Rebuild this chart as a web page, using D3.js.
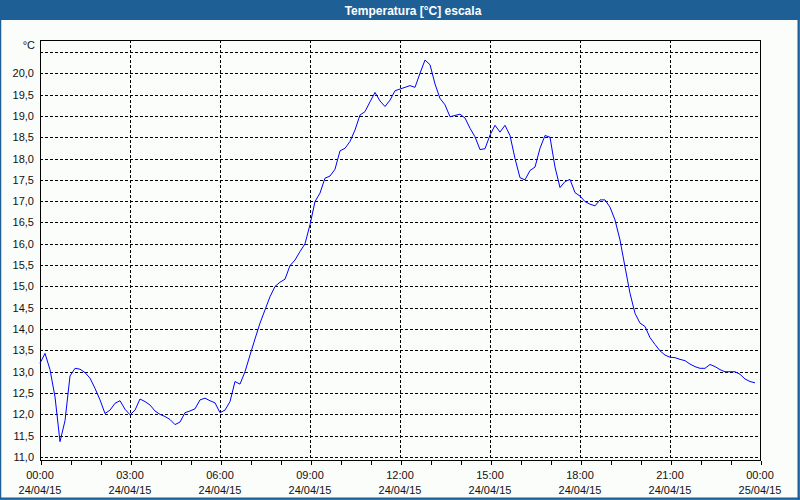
<!DOCTYPE html>
<html>
<head>
<meta charset="utf-8">
<script src="https://cdn.jsdelivr.net/npm/d3@7/dist/d3.min.js"></script>
<style>
  html, body { margin: 0; padding: 0; background: #fbfdfb; }
  svg { display: block; }
  text { font-family: "Liberation Sans", Arial, sans-serif; }
</style>
</head>
<body>
<svg id="chart" width="800" height="500"></svg>
<script>
// ---- Data ----
const title = "Temperatura [°C] escala";
const unitLabel = "°C";
const startTime = "2015-04-24T00:00:00";
const stepMinutes = 10;
const temperature = [
  13.20, 13.43, 13.05, 12.41, 11.36, 11.85, 12.90, 13.08, 13.06, 12.98,
  12.85, 12.61, 12.34, 12.02, 12.10, 12.26, 12.32, 12.12, 11.99, 12.10,
  12.36, 12.30, 12.22, 12.08, 12.00, 11.95, 11.88, 11.76, 11.82, 12.04,
  12.08, 12.13, 12.34, 12.38, 12.32, 12.27, 12.04, 12.10, 12.30, 12.77,
  12.71, 13.00, 13.39, 13.77, 14.14, 14.45, 14.76, 15.00, 15.10, 15.17,
  15.49, 15.62, 15.82, 16.00, 16.45, 16.99, 17.19, 17.54, 17.59, 17.75,
  18.18, 18.24, 18.40, 18.67, 19.02, 19.10, 19.33, 19.55, 19.35, 19.22,
  19.37, 19.59, 19.63, 19.67, 19.71, 19.67, 20.00, 20.31, 20.20, 19.75,
  19.41, 19.26, 18.98, 19.01, 19.04, 18.95, 18.71, 18.51, 18.21, 18.23,
  18.55, 18.78, 18.62, 18.78, 18.54, 18.00, 17.55, 17.50, 17.72, 17.80,
  18.24, 18.54, 18.50, 17.80, 17.32, 17.46, 17.51, 17.20, 17.12, 16.99,
  16.93, 16.89, 17.03, 17.03, 16.86, 16.56, 16.09, 15.46, 14.84, 14.37,
  14.14, 14.06, 13.80, 13.64, 13.49, 13.39, 13.34, 13.33, 13.29, 13.26,
  13.18, 13.12, 13.08, 13.08, 13.17, 13.12, 13.05, 13.00, 13.00, 13.00,
  12.94, 12.83, 12.77, 12.74
];
const yTickValues = [11.0, 11.5, 12.0, 12.5, 13.0, 13.5, 14.0, 14.5, 15.0, 15.5,
  16.0, 16.5, 17.0, 17.5, 18.0, 18.5, 19.0, 19.5, 20.0, 20.5];
const yLabelValues = [11.0, 11.5, 12.0, 12.5, 13.0, 13.5, 14.0, 14.5, 15.0, 15.5,
  16.0, 16.5, 17.0, 17.5, 18.0, 18.5, 19.0, 19.5, 20.0];
const xDomain = ["2015-04-24T00:00:00", "2015-04-25T00:00:00"];
const yDomain = [10.93, 20.78];

// ---- Build ----
const parse = d3.isoParse;
const t0 = parse(startTime);
const series = temperature.map((v, i) => ({ t: d3.timeMinute.offset(t0, i * stepMinutes), v }));

const W = 800, H = 500;
const plot = { left: 40, right: 760, top: 40, bottom: 460 };
const svg = d3.select("#chart");

// background
svg.append("rect").attr("x", 0).attr("y", 0).attr("width", W).attr("height", H).attr("fill", "#fbfdfb");

// title bar
svg.append("rect").attr("x", 0).attr("y", 0).attr("width", W).attr("height", 20).attr("fill", "#1e6096");
svg.append("text").attr("x", 413).attr("y", 14.5).attr("text-anchor", "middle")
  .attr("fill", "#ffffff").attr("font-weight", "bold").attr("font-size", "12px").text(title);

// window border
svg.append("rect").attr("x", 0.5).attr("y", 0.5).attr("width", W - 1.5).attr("height", H - 1.5)
  .attr("fill", "none").attr("stroke", "#1e6096").attr("stroke-width", 1.5);
svg.append("line").attr("x1", 798.5).attr("x2", 798.5).attr("y1", 20).attr("y2", 500).attr("stroke", "#1e6096").attr("stroke-width", 2);
svg.append("line").attr("x1", 0).attr("x2", 800).attr("y1", 498.5).attr("y2", 498.5).attr("stroke", "#1e6096").attr("stroke-width", 2);

const x = d3.scaleTime().domain(xDomain.map(parse)).range([plot.left, plot.right]);
const y = d3.scaleLinear().domain(yDomain).range([plot.bottom, plot.top]);

// horizontal gridlines
svg.append("g").selectAll("line").data(yTickValues).join("line")
  .attr("x1", plot.left).attr("x2", plot.right)
  .attr("y1", d => Math.round(y(d)) + 0.5).attr("y2", d => Math.round(y(d)) + 0.5)
  .attr("stroke", "#000").attr("stroke-width", 1).attr("stroke-dasharray", "3,2")
  .attr("shape-rendering", "crispEdges");

// vertical gridlines every 3 hours
const majorTicks = d3.timeHour.every(3).range(x.domain()[0], d3.timeMinute.offset(x.domain()[1], 1));
svg.append("g").selectAll("line").data(majorTicks.slice(1, -1)).join("line")
  .attr("x1", d => Math.round(x(d)) + 0.5).attr("x2", d => Math.round(x(d)) + 0.5)
  .attr("y1", plot.top).attr("y2", plot.bottom)
  .attr("stroke", "#000").attr("stroke-width", 1).attr("stroke-dasharray", "3,2")
  .attr("shape-rendering", "crispEdges");

// frame
svg.append("rect").attr("x", plot.left + 0.5).attr("y", plot.top + 0.5)
  .attr("width", plot.right - plot.left).attr("height", plot.bottom - plot.top)
  .attr("fill", "none").attr("stroke", "#000").attr("stroke-width", 1).attr("shape-rendering", "crispEdges");

// x axis hourly ticks
const xAxis = d3.axisBottom(x).ticks(d3.timeHour.every(1)).tickSize(4).tickSizeOuter(0).tickFormat("");
const gx = svg.append("g").attr("transform", `translate(0.5,${plot.bottom + 0.5})`).call(xAxis);
gx.select(".domain").remove();
gx.selectAll("line").attr("stroke", "#000").attr("shape-rendering", "crispEdges");

// x labels
const fmtTime = d3.timeFormat("%H:%M");
const fmtDate = d3.timeFormat("%d/%m/%y");
const xl = svg.append("g").selectAll("g").data(majorTicks).join("g");
xl.append("text").attr("x", d => x(d)).attr("y", 479).attr("text-anchor", "middle")
  .attr("font-size", "11px").attr("fill", "#111").text(d => fmtTime(d));
xl.append("text").attr("x", d => x(d)).attr("y", 494).attr("text-anchor", "middle")
  .attr("font-size", "11px").attr("fill", "#111").text(d => fmtDate(d));

// y labels
const fmtY = v => d3.format(".1f")(v).replace(".", ",");
svg.append("g").selectAll("text").data(yLabelValues).join("text")
  .attr("x", 34).attr("y", d => y(d) + 4).attr("text-anchor", "end")
  .attr("font-size", "11px").attr("fill", "#111").text(d => fmtY(d));
svg.append("text").attr("x", 35).attr("y", 49).attr("text-anchor", "end")
  .attr("font-size", "11px").attr("fill", "#111").text(unitLabel);

// line
const line = d3.line().x(d => x(d.t)).y(d => y(d.v));
svg.append("path").datum(series).attr("d", line)
  .attr("fill", "none").attr("stroke", "#0000ff").attr("stroke-width", 1);
</script>
</body>
</html>
